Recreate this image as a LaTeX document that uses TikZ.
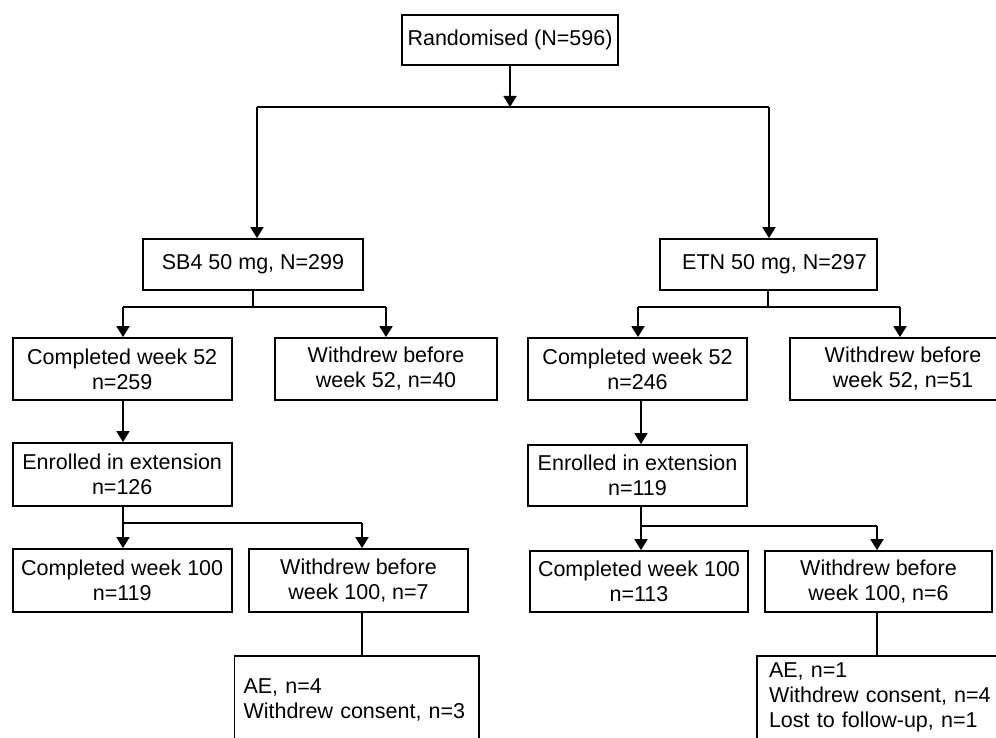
\documentclass[tikz,border=0pt]{standalone}
\usepackage{fontspec}
\setmainfont{Liberation Sans}
\usetikzlibrary{arrows.meta}
\tikzset{
  box/.style={draw, line width=1.8pt, inner sep=0pt, align=center, font=\fontsize{21.5}{25}\selectfont},
  listbox/.style={draw, line width=1.8pt, inner ysep=0pt, align=left, font=\fontsize{21.5}{25}\selectfont},
  conn/.style={line width=1.8pt},
  arr/.style={line width=1.8pt, -{Triangle[length=11pt,width=13pt]}},
}
\begin{document}
\begin{tikzpicture}[x=1pt,y=-1pt]
\useasboundingbox (0,0) rectangle (996,738);
\fill[white] (0,0) rectangle (996,738);
\clip (0,0) rectangle (996,738);
% nodes
\node[box, minimum width=216, minimum height=50] (rand) at (510,40) {Randomised (N=596)};
\node[box, minimum width=220, minimum height=51] (sb4) at (253,264.5) {SB4 50 mg, N=299};
\node[box, minimum width=217, minimum height=51] (etn) at (768.5,264.5) {\hspace*{12pt}ETN 50 mg, N=297};
\node[box, minimum width=219, minimum height=62] (c52l) at (122.2,369) {Completed week 52\\n=259};
\node[box, minimum width=222, minimum height=62] (w52l) at (386,369) {Withdrew before\\week 52, n=40};
\node[box, minimum width=219, minimum height=62] (c52r) at (637.5,369) {Completed week 52\\n=246};
\node[box, minimum width=226, minimum height=62] (w52r) at (903,369) {Withdrew before\\week 52, n=51};
\node[box, minimum width=219, minimum height=63] (enrl) at (122.2,474.5) {Enrolled in extension\\n=126};
\node[box, minimum width=219, minimum height=61] (enrr) at (637.5,475.5) {Enrolled in extension\\n=119};
\node[box, minimum width=219, minimum height=63] (c100l) at (122.2,580.5) {Completed week 100\\n=119};
\node[box, minimum width=219, minimum height=63] (w100l) at (358.5,580.5) {Withdrew before\\week 100, n=7};
\node[box, minimum width=218, minimum height=61] (c100r) at (639,581.5) {Completed week 100\\n=113};
\node[box, minimum width=227, minimum height=61] (w100r) at (878.5,581.5) {Withdrew before\\week 100, n=6};
\node[listbox, inner xsep=9pt, text width=226.5pt, minimum height=88] (ael) at (356.75,700) {AE, n=4\\Withdrew consent, n=3};
\node[listbox, inner xsep=12pt, text width=228pt, minimum height=83] (aer) at (883,697.5) {AE, n=1\\Withdrew consent, n=4\\Lost to follow-up, n=1};
% junction coordinates
\coordinate (t0) at (510,107);
\coordinate (tL) at (257,107);
\coordinate (tR) at (769,107);
\coordinate (sL) at (123,307);
\coordinate (sM) at (253,307);
\coordinate (sR) at (386,307);
\coordinate (eL) at (638,307);
\coordinate (eM) at (768,307);
\coordinate (eR) at (900,307);
\coordinate (xL) at (123,523);
\coordinate (xR) at (362,523);
\coordinate (yL) at (641,526);
\coordinate (yR) at (877,526);
\coordinate (zL) at (362,656);
\coordinate (zR) at (877,656);
% connectors
\draw[arr] (rand.south) -- (t0);
\draw[conn] (tL) -- (tR);
\draw[arr] (tL) -- (tL |- sb4.north);
\draw[arr] (tR) -- (tR |- etn.north);
\draw[conn] (sM |- sb4.south) -- (sM);
\draw[conn] (sL) -- (sR);
\draw[arr] (sL) -- (sL |- c52l.north);
\draw[arr] (sR) -- (sR |- w52l.north);
\draw[conn] (eM |- etn.south) -- (eM);
\draw[conn] (eL) -- (eR);
\draw[arr] (eL) -- (eL |- c52r.north);
\draw[arr] (eR) -- (eR |- w52r.north);
\draw[arr] (xL |- c52l.south) -- (xL |- enrl.north);
\draw[conn] (xL |- enrl.south) -- (xL) -- (xR);
\draw[arr] (xL) -- (xL |- c100l.north);
\draw[arr] (xR) -- (xR |- w100l.north);
\draw[arr] (yL |- c52r.south) -- (yL |- enrr.north);
\draw[conn] (yL |- enrr.south) -- (yL) -- (yR);
\draw[arr] (yL) -- (yL |- c100r.north);
\draw[arr] (yR) -- (yR |- w100r.north);
\draw[conn] (zL |- w100l.south) -- (zL |- ael.north);
\draw[conn] (zR |- w100r.south) -- (zR |- aer.north);
\end{tikzpicture}
\end{document}
